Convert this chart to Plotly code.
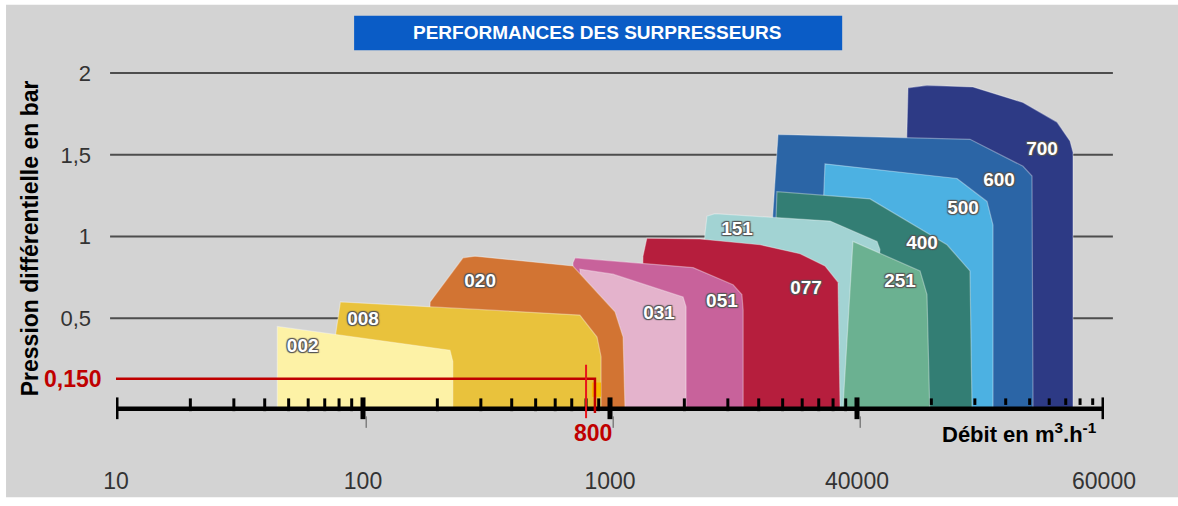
import numpy as np
import plotly.graph_objects as go

# --- contours des surpresseurs : débit (échelle du graphique) / pression (bar) ---
d_700 = [14940, 16090, 19210, 29490, 47000, 64520, 72840, 74900, 74900]
p_700 = [-0.05, 1.91, 1.925, 1.915, 1.82, 1.70, 1.585, 1.515, -0.05]
d_600 = [4050, 4790, 28670, 47000, 51100, 51600]
p_600 = [-0.05, 1.625, 1.595, 1.43, 1.37, -0.05]
d_500 = [6760, 7420, 25400, 33600, 35530, 35530]
p_500 = [-0.05, 1.445, 1.355, 1.215, 1.07, -0.05]
d_400 = [4440, 4740, 11290, 23140, 28670, 29220]
p_400 = [-0.05, 1.275, 1.23, 0.95, 0.79, -0.05]
d_151 = [2310, 2420, 2470, 2660, 7780, 12050, 12390, 10280]
p_151 = [-0.05, 1.01, 1.125, 1.14, 1.095, 0.97, 0.92, -0.05]
d_251 = [8770, 9630, 18000, 19200, 19700]
p_251 = [-0.05, 0.97, 0.79, 0.645, -0.05]
d_077 = [1320, 1360, 1410, 2310, 4050, 5880, 7420, 8380, 8540]
p_077 = [-0.05, 0.88, 0.99, 0.985, 0.95, 0.895, 0.82, 0.72, -0.05]
d_051 = [708, 708, 722, 2170, 3150, 3420, 3460, 3460]
p_051 = [-0.05, 0.84, 0.87, 0.81, 0.705, 0.645, 0.55, -0.05]
d_031 = [920, 755, 1028, 1976, 2032, 2032]
p_031 = [-0.05, 0.80, 0.77, 0.63, 0.57, -0.05]
d_020 = [180, 187, 254, 284, 708, 1048, 1130, 1150]
p_020 = [-0.05, 0.60, 0.87, 0.88, 0.82, 0.54, 0.385, -0.05]
d_008 = [70, 81, 755, 886, 920, 920]
p_008 = [-0.05, 0.60, 0.52, 0.385, 0.265, -0.05]
d_002 = [45, 45, 225, 231, 231]
p_002 = [-0.05, 0.45, 0.305, 0.235, -0.05]

# ordre d'affichage : de l'arrière vers l'avant
modeles = ["700", "600", "500", "400", "151", "251", "077", "051", "031", "020", "008", "002"]
couleurs = ["#2d3a85", "#2b65a6", "#4cb1e2", "#337e74", "#a2d3d3", "#6bb191",
            "#b61e3d", "#c8629b", "#e4b3cc", "#d27433", "#e9c23c", "#fdf2a6"]
contours = [(d_700, p_700), (d_600, p_600), (d_500, p_500), (d_400, p_400),
            (d_151, p_151), (d_251, p_251), (d_077, p_077), (d_051, p_051),
            (d_031, p_031), (d_020, p_020), (d_008, p_008), (d_002, p_002)]

# position des étiquettes
label_debit = [56100, 37570, 26860, 18340, 3268, 14940, 6217, 2840, 1579, 298, 100, 57]
label_pression = [1.53, 1.34, 1.17, 0.95, 1.04, 0.72, 0.68, 0.60, 0.525, 0.72, 0.49, 0.32]

# axes
x_ticks = [10, 100, 1000, 10000, 100000]
x_ticktext = ["10", "100", "1000", "40000", "60000"]
y_grid = [0.5, 1, 1.5, 2]
y_ticktext = ["0,5", "1", "1,5", "2"]

# point de fonctionnement (position, libellé "0,150")
point_debit = 800
point_pression = 0.13

FONT = "Arial, Liberation Sans, sans-serif"
ROUGE = "#c00000"

fig = go.Figure()

for nom, coul, (d, p) in zip(modeles, couleurs, contours):
    fig.add_trace(go.Scatter(x=d, y=p, fill="toself", fillcolor=coul, mode="lines",
                             line=dict(color="rgba(255,255,255,0.35)", width=1.2),
                             name=nom, hoverinfo="name"))

# petit carré orange près du point
fig.add_trace(go.Scatter(x=[845, 920, 920, 845], y=[0.02, 0.02, 0.107, 0.107],
                         fill="toself", fillcolor="#f6b800", mode="lines",
                         line=dict(width=0), hoverinfo="skip"))

# axe horizontal gradué
axe_y = -0.053
fig.add_trace(go.Scatter(x=[9.7, 103700], y=[axe_y, axe_y], mode="lines",
                         line=dict(color="black", width=4.5), hoverinfo="skip"))
maj_x, maj_y = [], []
for v in x_ticks:
    maj_x += [v, v, None]
    maj_y += [0.016, -0.117, None]
fig.add_trace(go.Scatter(x=maj_x, y=maj_y, mode="lines",
                         line=dict(color="black", width=5), hoverinfo="skip"))
min_x, min_y = [], []
for dec in x_ticks[:-1]:
    for m in range(2, 10):
        bas = -0.068 if dec < 10000 else -0.03
        min_x += [m * dec, m * dec, None]
        min_y += [0.010, bas, None]
fig.add_trace(go.Scatter(x=min_x, y=min_y, mode="lines",
                         line=dict(color="black", width=3), hoverinfo="skip"))
# petits traits fins sous l'axe
fin_x, fin_y = [], []
for v in x_ticks[1:4]:
    fin_x += [v * 1.03, v * 1.03, None]
    fin_y += [-0.10, -0.17, None]
fig.add_trace(go.Scatter(x=fin_x, y=fin_y, mode="lines",
                         line=dict(color="#555", width=1), hoverinfo="skip"))

# repère rouge
fig.add_trace(go.Scatter(x=[9.3, 869, 869], y=[point_pression, point_pression, -0.08],
                         mode="lines", line=dict(color=ROUGE, width=2.5), hoverinfo="skip"))
fig.add_trace(go.Scatter(x=[point_debit, point_debit], y=[0.216, -0.111], mode="lines",
                         line=dict(color="#e8141b", width=2), hoverinfo="skip"))

# étiquettes des modèles
fig.add_trace(go.Scatter(
    x=label_debit, y=label_pression, mode="text", text=modeles,
    textfont=dict(family=FONT, size=19, color="white", weight="bold",
                  shadow="-1px -1px 1px #555, 1px -1px 1px #555, -1px 1px 1px #555, 1px 1px 1px #555"),
    hoverinfo="skip"))

# fond gris et lignes de grille
shapes = [dict(type="rect", xref="paper", yref="paper", x0=-0.1113, x1=1.1,
               y0=-0.163, y1=1.147, fillcolor="#d3d3d3", line_width=0, layer="below")]
for g in y_grid:
    shapes.append(dict(type="line", xref="paper", yref="y", x0=-0.006, x1=1.009,
                       y0=g, y1=g, line=dict(color="#4d4d4d", width=2), layer="below"))
# bandeau du titre
shapes.append(dict(type="rect", xref="paper", yref="paper", x0=0.241, x1=0.735,
                   y0=1.026, y1=1.118, fillcolor="#0a5cc6", line_width=0))

annotations = [
    dict(text="<b>PERFORMANCES DES SURPRESSEURS</b>", xref="paper", yref="paper",
         x=0.4864, y=1.072, xanchor="center", yanchor="middle", showarrow=False,
         font=dict(family=FONT, size=19, color="white")),
    dict(text="<b>Pression différentielle en bar</b>", xref="paper", yref="paper",
         x=-0.087, y=0.526, xanchor="center", yanchor="middle", textangle=-90,
         showarrow=False, font=dict(family=FONT, size=23, color="black")),
    dict(text="<b>0,150</b>", xref="paper", x=-0.0121, y=point_pression,
         xanchor="right", yanchor="middle", showarrow=False,
         font=dict(family=FONT, size=23, color=ROUGE)),
    dict(text="<b>800</b>", x=np.log10(point_debit), xshift=7, y=-0.2,
         xanchor="center", yanchor="middle", showarrow=False,
         font=dict(family=FONT, size=23, color=ROUGE)),
    dict(text="<b>Débit en m<sup>3</sup>.h<sup>-1</sup></b>", xref="paper", x=0.995, y=-0.2,
         xanchor="right", yanchor="middle", showarrow=False,
         font=dict(family=FONT, size=22, color="black")),
]

fig.update_layout(
    width=1178, height=506,
    margin=dict(l=116, r=74, t=60, b=66),
    paper_bgcolor="white", plot_bgcolor="rgba(0,0,0,0)",
    showlegend=False,
    shapes=shapes, annotations=annotations,
    xaxis=dict(type="log", range=[1, 5], tickvals=x_ticks, ticktext=x_ticktext,
               showgrid=False, zeroline=False, showline=False, ticks="",
               ticklabelstandoff=29, tickfont=dict(family=FONT, size=23, color="#333")),
    yaxis=dict(range=[-0.22, 2.08], tickvals=y_grid, ticktext=y_ticktext,
               showgrid=False, zeroline=False, showline=False, ticks="",
               ticklabelstandoff=24, tickfont=dict(family=FONT, size=22, color="#333")),
)

fig.write_html("out.html", config={"displayModeBar": False},
               post_script="document.body.style.margin='0px';")
